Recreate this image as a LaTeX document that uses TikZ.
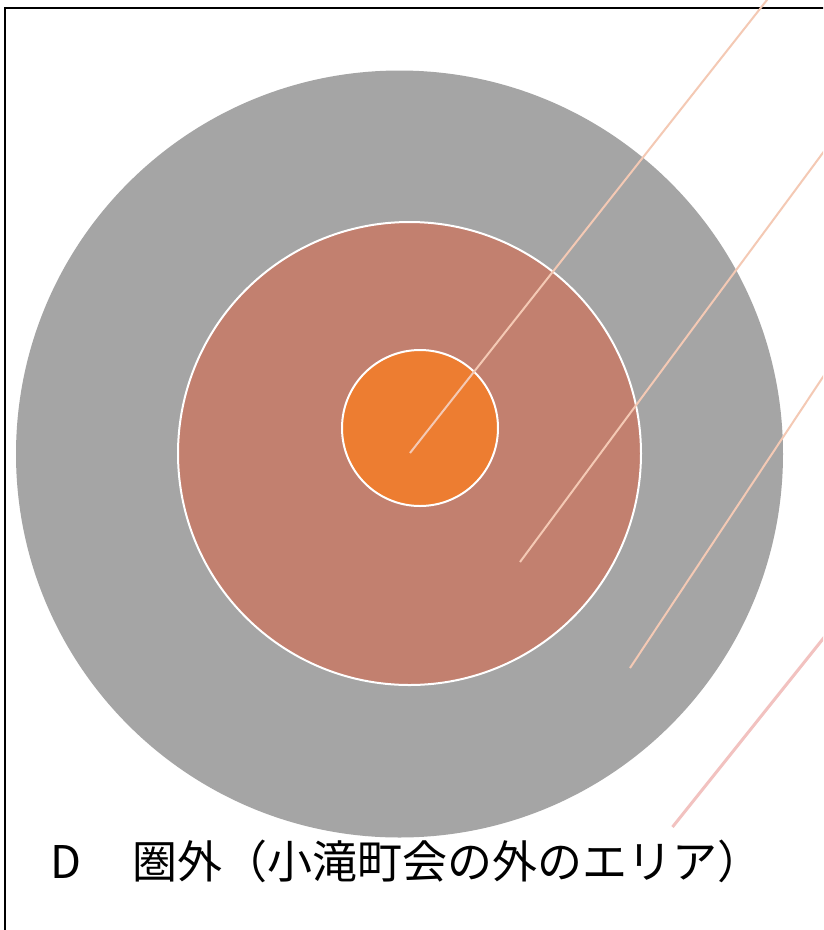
\documentclass[tikz,border=0pt]{standalone}
\usepackage{fontspec}
\newfontfamily\jp{Noto Sans CJK JP}
\definecolor{outergrey}{HTML}{A5A5A5}
\definecolor{midred}{HTML}{C2806F}
\definecolor{innerorange}{HTML}{ED7D31}
\definecolor{peach}{HTML}{F4C9B4}
\definecolor{pinkline}{HTML}{F2C2C0}
\begin{document}
\begin{tikzpicture}[x=1pt,y=-1pt,
  ringnode/.style={circle, inner sep=0pt, draw=white, line width=2pt},
  callout/.style={draw=peach, line width=2pt},
  callouttwo/.style={draw=pinkline, line width=3pt},
  frameline/.style={draw=black, line width=2.2pt}]
\useasboundingbox (0,0) rectangle (823,930);
\clip (0,0) rectangle (823,930);
\fill[white] (0,0) rectangle (823,930);
% frame
\coordinate (fbl) at (5,945);
\coordinate (ftr) at (840,8);
\draw[frameline] (fbl) |- (ftr);
% circles
\node[ringnode, fill=outergrey, draw=none, minimum size=767pt] (outer) at (399.5,454) {};
\node[ringnode, fill=midred, minimum size=463pt] (middle) at (409.5,453.5) {};
\node[ringnode, fill=innerorange, minimum size=156pt] (inner) at (420,428) {};
% callout lines
\coordinate (l1a) at (410,453);
\coordinate (l1b) at (777.2,-13);
\coordinate (l2a) at (520,562);
\coordinate (l2b) at (862,100);
\coordinate (l3a) at (630,668);
\coordinate (l3b) at (874,300);
\coordinate (l4a) at (672.5,827);
\coordinate (l4b) at (870,580);
\draw[callout] (l1a) -- (l1b);
\draw[callout] (l2a) -- (l2b);
\draw[callout] (l3a) -- (l3b);
\draw[callouttwo] (l4a) -- (l4b);
% label
\node[anchor=base west, inner sep=0pt, font=\jp\fontsize{45}{52}\selectfont] (label) at (50,878) {D\hspace{51pt}圏外（小滝町会の外のエリア）};
\end{tikzpicture}
\end{document}
